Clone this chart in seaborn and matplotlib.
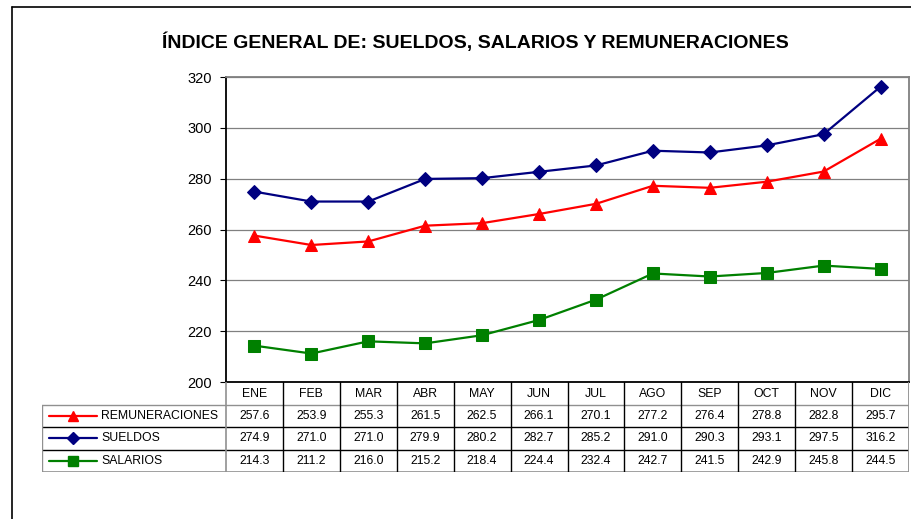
import numpy as np
import pandas as pd
import matplotlib
matplotlib.use("Agg")
import matplotlib.pyplot as plt
from matplotlib.lines import Line2D
import seaborn as sns

# Data
months = ["ENE", "FEB", "MAR", "ABR", "MAY", "JUN", "JUL", "AGO", "SEP", "OCT", "NOV", "DIC"]
remuneraciones = [257.6, 253.9, 255.3, 261.5, 262.5, 266.1, 270.1, 277.2, 276.4, 278.8, 282.8, 295.7]
sueldos = [274.9, 271.0, 271.0, 279.9, 280.2, 282.7, 285.2, 291.0, 290.3, 293.1, 297.5, 316.2]
salarios = [214.3, 211.2, 216.0, 215.2, 218.4, 224.4, 232.4, 242.7, 241.5, 242.9, 245.8, 244.5]

series = ["REMUNERACIONES", "SUELDOS", "SALARIOS"]
values = [remuneraciones, sueldos, salarios]
colors = ["#ff0000", "#000080", "#008000"]
markers = ["^", "D", "s"]
msizes = [9, 7.5, 8.5]

sns.set_style("white")
plt.rcParams["font.family"] = ["Liberation Sans", "DejaVu Sans"]
plt.rcParams["text.color"] = "black"
plt.rcParams["ytick.color"] = "black"
plt.rcParams["ytick.labelcolor"] = "black"

W, H = 911, 519
fig = plt.figure(figsize=(W / 100, H / 100), dpi=100)

# outer chart border (left and top only visible)
fig.add_artist(Line2D([12 / W, 12 / W], [0, 1 - 7 / H], color="black", lw=1.2))
fig.add_artist(Line2D([12 / W, 1], [1 - 7 / H, 1 - 7 / H], color="black", lw=1.2))

# main plot area
ax_l, ax_r, ax_t, ax_b = 226, 909, 77, 382
ax = fig.add_axes([ax_l / W, 1 - ax_b / H, (ax_r - ax_l) / W, (ax_b - ax_t) / H])

x = np.arange(len(months))
for name, vals, c, m, ms in zip(series, values, colors, markers, msizes):
    df = pd.DataFrame({"mes": x, "valor": vals})
    sns.lineplot(data=df, x="mes", y="valor", ax=ax, color=c, marker=m,
                 markersize=ms, markeredgecolor=c, linewidth=1.6, zorder=3)

ax.set_xlim(-0.5, len(months) - 0.5)
ax.set_ylim(200, 320)
ax.set_yticks(np.arange(200, 321, 20))
ax.set_xticks([])
ax.set_xlabel("")
ax.set_ylabel("")
ax.yaxis.grid(True, color="#808080", lw=0.9)
ax.set_axisbelow(True)
ax.tick_params(axis="y", left=True, length=4, width=0.8, color="black",
               labelcolor="black", labelsize=10.5, pad=6)
ax.spines["left"].set_color("black")
ax.spines["bottom"].set_color("black")
ax.spines["top"].set_color("#808080")
ax.spines["right"].set_color("#808080")
for s in ["left", "bottom", "top", "right"]:
    ax.spines[s].set_linewidth(1.3)

fig.text(475 / W, 1 - 42 / H, "ÍNDICE GENERAL DE: SUELDOS, SALARIOS Y REMUNERACIONES",
         ha="center", va="center", fontsize=14, fontweight="bold", color="black")

# data table below the plot
tb_l, tb_t, tb_b = 42, 382, 472
unit = (ax_r - ax_l) / len(months)
leg_w = (ax_l - tb_l) / unit
tab = fig.add_axes([tb_l / W, 1 - tb_b / H, (ax_r - tb_l) / W, (tb_b - tb_t) / H])
tab.set_xlim(-0.5 - leg_w, len(months) - 0.5)
tab.set_ylim(4, 0)
tab.axis("off")


def px(p):
    return -0.5 - leg_w + (p - tb_l) / unit


lc = "black"
gc = "#909090"
# horizontal lines
tab.plot([-0.5 - leg_w, len(months) - 0.5], [1, 1], color=gc, lw=1)
for yy in [2, 3]:
    tab.plot([-0.5 - leg_w, len(months) - 0.5], [yy, yy], color=lc, lw=1)
tab.plot([-0.5 - leg_w, len(months) - 0.5], [4, 4], color=gc, lw=1.2)
# vertical lines
for i in range(1, len(months)):
    tab.plot([i - 0.5, i - 0.5], [0, 4], color=lc, lw=1)
tab.plot([-0.5, -0.5], [0, 4], color=gc, lw=1.2)
tab.plot([len(months) - 0.5] * 2, [0, 4], color=gc, lw=1.3)
tab.plot([-0.5 - leg_w, -0.5 - leg_w], [1, 4], color=gc, lw=1)

fs = 8.8
for i, mth in enumerate(months):
    tab.text(i, 0.55, mth, ha="center", va="center", fontsize=fs)
for r, (name, vals, c, m, ms) in enumerate(zip(series, values, colors, markers, msizes)):
    yy = r + 1.5
    for i, v in enumerate(vals):
        tab.text(i, yy, f"{v:.1f}", ha="center", va="center", fontsize=fs)
    tab.plot([px(49), px(97)], [yy, yy], color=c, lw=1.6)
    tab.plot([px(73)], [yy], marker=m, color=c, markersize=ms * 0.85, markeredgecolor=c)
    tab.text(px(101), yy, name, ha="left", va="center", fontsize=fs)

fig.savefig("out.png", dpi=100)
